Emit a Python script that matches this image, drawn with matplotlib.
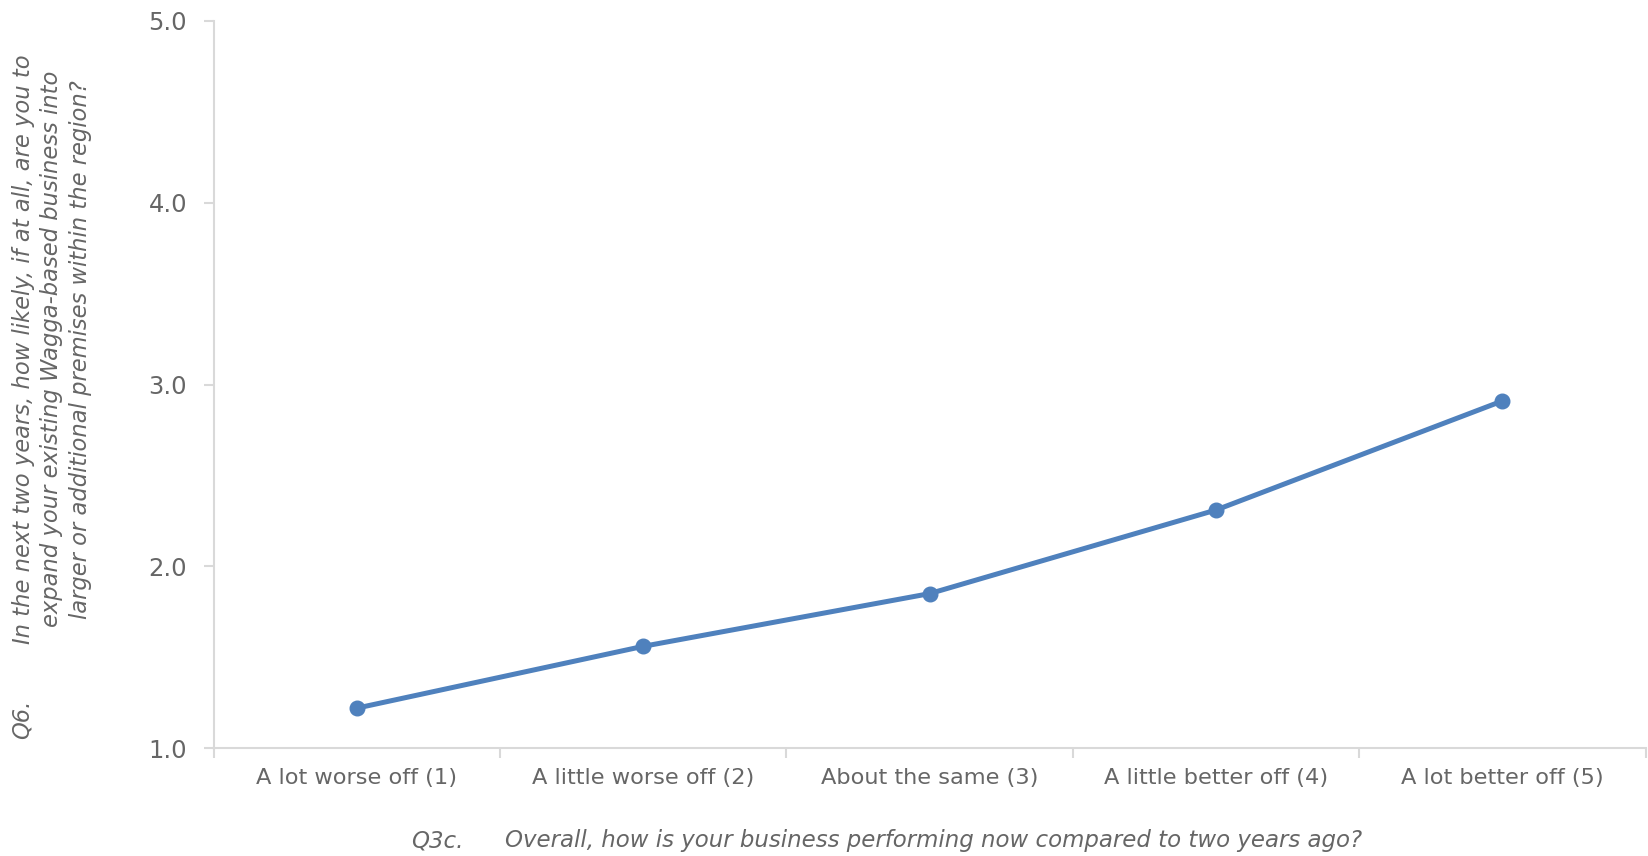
import matplotlib
matplotlib.use("Agg")
import matplotlib.pyplot as plt

categories = ["A lot worse off (1)", "A little worse off (2)", "About the same (3)",
              "A little better off (4)", "A lot better off (5)"]
values = [1.22, 1.56, 1.85, 2.31, 2.91]
y_ticks = [1.0, 2.0, 3.0, 4.0, 5.0]

x_prefix = "Q3c."
x_title = "Overall, how is your business performing now compared to two years ago?"
y_title = ("In the next two years, how likely, if at all, are you to\n"
           "expand your existing Wagga-based business into\n"
           "larger or additional premises within the region?")
y_prefix = "Q6."


def main():
	plt.rcParams['font.family'] = ['DejaVu Sans']
	text_col = "#666666"
	axis_col = "#D9D9D9"
	blue = "#4F81BD"

	fig = plt.figure(figsize=(16.49, 8.56), dpi=100)
	ax = fig.add_axes([0.1295, 0.126, 0.8685, 0.8495])

	xs = list(range(len(categories)))
	ax.plot(xs, values, color=blue, linewidth=3.6, marker="o", markersize=10.5,
			solid_capstyle="round")

	ax.set_xlim(-0.5, len(categories) - 0.5)
	ax.set_ylim(1.0, 5.0)
	ax.set_yticks(y_ticks)
	ax.set_yticklabels(["%.1f" % v for v in y_ticks], fontsize=17.5, color=text_col)

	ax.set_xticks(xs)
	ax.set_xticklabels(categories, fontsize=16.2, color=text_col)
	ax.set_xticks([i - 0.5 for i in range(len(categories) + 1)], minor=True)
	ax.tick_params(axis="x", which="major", length=0, pad=14)
	ax.tick_params(axis="x", which="minor", length=7, color=axis_col, width=1.5)
	ax.tick_params(axis="y", length=7, color=axis_col, width=1.5, pad=12)

	for s in ["top", "right"]:
		ax.spines[s].set_visible(False)
	for s in ["left", "bottom"]:
		ax.spines[s].set_color(axis_col)
		ax.spines[s].set_linewidth(1.5)

	fig.text(0.249, 0.018, x_prefix, fontsize=16.5, style="italic", color=text_col,
			 ha="left", va="center")
	fig.text(0.306, 0.018, x_title, fontsize=16.5, style="italic", color=text_col,
			 ha="left", va="center")
	fig.text(0.0315, 0.592, y_title, fontsize=16.3, style="italic", color=text_col,
			 rotation=90, ha="center", va="center", multialignment="center",
			 linespacing=1.3)
	fig.text(0.0135, 0.16, y_prefix, fontsize=16.3, style="italic", color=text_col,
			 rotation=90, ha="center", va="center")

	fig.savefig("out.png", dpi=100)


if __name__ == "__main__":
	main()
